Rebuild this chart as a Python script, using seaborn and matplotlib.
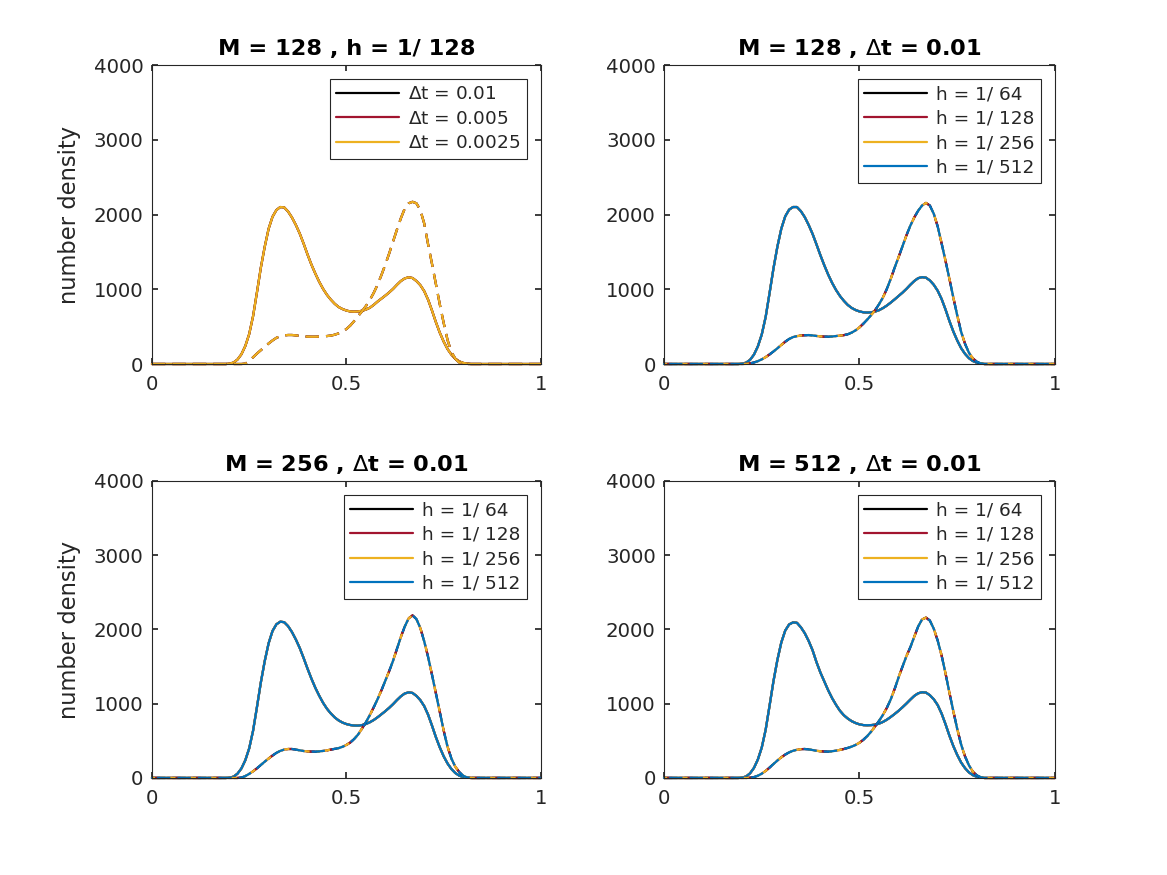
import numpy as np
import seaborn as sns
import matplotlib.pyplot as plt

x_grid = [0.0,
          0.18, 0.19, 0.20, 0.21, 0.22, 0.23, 0.24, 0.25, 0.26, 0.27,
          0.28, 0.29, 0.30, 0.31, 0.32, 0.33, 0.34, 0.35, 0.36, 0.37,
          0.38, 0.39, 0.40, 0.41, 0.42, 0.43, 0.44, 0.45, 0.46, 0.47,
          0.48, 0.49, 0.50, 0.51, 0.52, 0.53, 0.54, 0.55, 0.56, 0.57,
          0.58, 0.59, 0.60, 0.61, 0.62, 0.63, 0.64, 0.65, 0.66, 0.67,
          0.68, 0.69, 0.70, 0.71, 0.72, 0.73, 0.74, 0.75, 0.76, 0.77,
          0.78, 0.79, 0.80, 0.81, 0.82,
          1.0]

# top left: M = 128, h = 1/128
tl_solid = [0,
            0, 0, 5, 20, 60, 130, 240, 400, 640, 960,
            1290, 1570, 1810, 1970, 2060, 2100, 2095, 2040, 1960, 1860,
            1745, 1610, 1465, 1330, 1210, 1100, 1005, 925, 860, 805,
            762, 735, 715, 703, 700, 703, 712, 728, 752, 790,
            835, 875, 915, 958, 1005, 1060, 1110, 1145, 1160, 1150,
            1110, 1055, 975, 860, 715, 560, 420, 300, 200, 125,
            70, 35, 15, 5, 0,
            0]
tl_dashed = [0,
             0, 0, 0, 0, 0, 0, 5, 40, 90, 140,
             185, 230, 275, 315, 350, 372, 383, 388, 388, 383,
             376, 370, 366, 365, 365, 367, 370, 374, 380, 392,
             410, 435, 468, 515, 575, 640, 705, 775, 855, 950,
             1060, 1190, 1330, 1480, 1640, 1800, 1950, 2080, 2150, 2170,
             2150, 2060, 1880, 1600, 1340, 1070, 800, 550, 320, 160,
             70, 20, 3, 0, 0,
             0]

# top right: M = 128, dt = 0.01
tr_solid = [0,
            0, 0, 4, 18, 55, 125, 235, 395, 630, 950,
            1280, 1570, 1810, 1975, 2065, 2100, 2100, 2045, 1965, 1860,
            1740, 1600, 1455, 1320, 1195, 1085, 990, 910, 845, 790,
            750, 722, 703, 692, 688, 692, 702, 720, 748, 782,
            822, 865, 910, 955, 1005, 1060, 1110, 1148, 1162, 1155,
            1118, 1060, 980, 870, 730, 575, 435, 315, 212, 135,
            78, 40, 18, 6, 0,
            0]
tr_dashed = [0,
             0, 0, 0, 2, 8, 20, 38, 62, 92, 128,
             168, 210, 255, 298, 335, 360, 373, 380, 385, 387,
             382, 375, 370, 366, 365, 368, 374, 380, 386, 398,
             420, 450, 490, 540, 595, 655, 720, 800, 890, 1005,
             1140, 1290, 1430, 1575, 1720, 1850, 1960, 2050, 2120, 2155,
             2120, 2010, 1840, 1615, 1380, 1140, 890, 650, 430, 270,
             150, 75, 30, 8, 0,
             0]

# bottom left: M = 256, dt = 0.01
bl_solid = [0,
            0, 0, 4, 18, 58, 128, 238, 398, 636, 956,
            1288, 1575, 1815, 1980, 2070, 2105, 2098, 2045, 1965, 1865,
            1750, 1615, 1472, 1338, 1215, 1108, 1012, 932, 868, 815,
            775, 746, 726, 713, 706, 705, 712, 727, 750, 780,
            817, 858, 900, 945, 995, 1050, 1100, 1138, 1153, 1145,
            1105, 1048, 968, 852, 705, 550, 412, 292, 195, 120,
            66, 32, 13, 4, 0,
            0]
bl_dashed = [0,
             0, 0, 0, 0, 0, 5, 25, 55, 90, 130,
             175, 220, 262, 302, 338, 365, 382, 390, 390, 382,
             372, 363, 358, 355, 354, 358, 364, 372, 382, 392,
             402, 420, 445, 478, 525, 585, 665, 750, 845, 950,
             1060, 1180, 1310, 1440, 1580, 1740, 1900, 2040, 2150, 2190,
             2140, 2020, 1840, 1630, 1390, 1140, 890, 640, 420, 260,
             150, 80, 30, 8, 0,
             0]

# bottom right: M = 512, dt = 0.01
br_solid = [0,
            0, 0, 5, 20, 62, 135, 248, 410, 650, 975,
            1305, 1590, 1825, 1985, 2068, 2095, 2090, 2030, 1950, 1845,
            1720, 1560, 1420, 1300, 1180, 1075, 985, 905, 845, 800,
            765, 740, 722, 712, 710, 712, 718, 732, 755, 785,
            822, 862, 905, 952, 1002, 1055, 1105, 1140, 1155, 1150,
            1115, 1060, 982, 868, 725, 570, 430, 310, 208, 132,
            75, 38, 16, 5, 0,
            0]
br_dashed = [0,
             0, 0, 0, 0, 3, 12, 30, 58, 95, 140,
             188, 235, 278, 315, 345, 366, 380, 388, 390, 385,
             376, 366, 360, 356, 355, 360, 368, 378, 390, 405,
             422, 445, 475, 515, 565, 625, 695, 770, 850, 945,
             1060, 1200, 1355, 1500, 1640, 1760, 1900, 2040, 2135, 2160,
             2120, 2010, 1850, 1650, 1410, 1150, 900, 660, 450, 290,
             170, 85, 35, 10, 0,
             0]

dt_labels = ["$\\Delta$t = 0.01", "$\\Delta$t = 0.005", "$\\Delta$t = 0.0025"]
h_labels = ["h = 1/ 64", "h = 1/ 128", "h = 1/ 256", "h = 1/ 512"]
titles = ["M = 128 , h = 1/ 128", "M = 128 , $\\Delta$t = 0.01",
          "M = 256 , $\\Delta$t = 0.01", "M = 512 , $\\Delta$t = 0.01"]
colors = ["#000000", "#A2142F", "#EDB120", "#0072BD"]

sns.set_theme(style="ticks", rc={
    "xtick.direction": "in", "ytick.direction": "in",
    "xtick.top": True, "ytick.right": True,
    "axes.edgecolor": "#262626", "axes.linewidth": 0.8,
    "xtick.color": "#262626", "ytick.color": "#262626",
    "xtick.major.size": 4, "ytick.major.size": 4,
})
plt.rcParams["font.family"] = ["DejaVu Sans"]
plt.rcParams["mathtext.fontset"] = "dejavusans"

fig = plt.figure(figsize=(11.67, 8.75), dpi=100)
positions = [[0.1302, 0.584, 0.3333, 0.3417], [0.569, 0.584, 0.335, 0.3417],
             [0.1302, 0.1109, 0.3333, 0.3394], [0.569, 0.1109, 0.335, 0.3394]]

panels = [
    (tl_solid, tl_dashed, dt_labels, False),
    (tr_solid, tr_dashed, h_labels, True),
    (bl_solid, bl_dashed, h_labels, True),
    (br_solid, br_dashed, h_labels, True),
]

for i, (solid, dashed, labels, shift) in enumerate(panels):
    ax = fig.add_axes(positions[i])
    handles = []
    for k, lab in enumerate(labels):
        sns.lineplot(x=x_grid, y=solid, color=colors[k], linewidth=1.6,
                     ax=ax, clip_on=False)
        handles.append(ax.lines[-1])
    for k, lab in enumerate(labels):
        off = 2.3 * k if shift else 0
        sns.lineplot(x=x_grid, y=dashed, color=colors[k], linewidth=1.6,
                     linestyle=(off, (6, 3.2)), ax=ax, clip_on=False)
    ax.set_xlim(0, 1)
    ax.set_ylim(0, 4000)
    ax.set_xticks([0, 0.5, 1])
    ax.set_xticklabels(["0", "0.5", "1"])
    ax.set_yticks([0, 1000, 2000, 3000, 4000])
    ax.tick_params(labelsize=14.2, pad=6, labelcolor="#262626")
    ax.tick_params(axis="x", pad=8)
    for s in ax.spines.values():
        s.set_visible(True)
    ax.set_title(titles[i], fontsize=16.2, fontweight="bold", pad=7, color="black")
    if i % 2 == 0:
        ax.set_ylabel("number density", fontsize=16.3, labelpad=9, color="#262626")
    leg = ax.legend(handles, labels, loc="upper right", fontsize=13.3,
                    handlelength=3.4, handletextpad=0.5, labelspacing=0.35,
                    borderpad=0.35, fancybox=False, framealpha=1,
                    edgecolor="#262626", borderaxespad=0.75)
    leg.get_frame().set_linewidth(0.8)

fig.savefig("out.png", dpi=100)
